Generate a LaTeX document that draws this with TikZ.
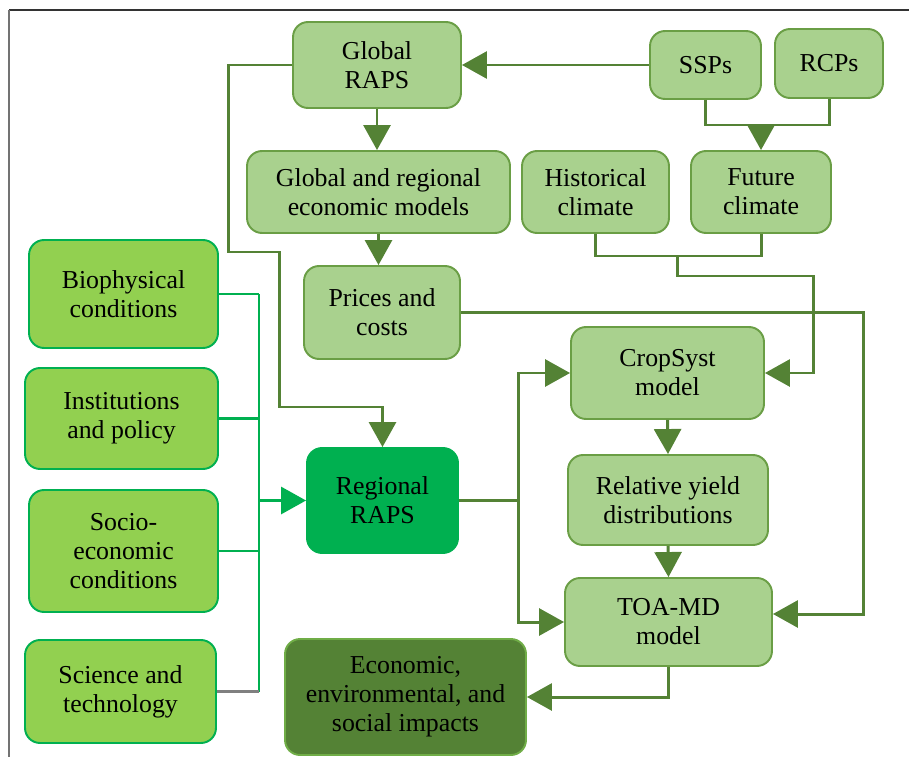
\documentclass[tikz,border=0pt]{standalone}
\usepackage{fontspec}
\setmainfont{Liberation Serif}
\usetikzlibrary{arrows.meta}

\definecolor{lightbox}{HTML}{A9D18E}
\definecolor{lightline}{HTML}{6A9E45}
\definecolor{darkgreen}{HTML}{548235}
\definecolor{limebox}{HTML}{92D050}
\definecolor{brightgreen}{HTML}{00B050}
\definecolor{impactline}{HTML}{70AD47}

\newcommand{\boxfont}{\fontsize{14.7}{16.5}\selectfont}

\begin{document}
\begin{tikzpicture}[x=0.02cm, y=-0.02cm,
    box/.style={draw=lightline, fill=lightbox, line width=1.1pt, rounded corners=0.3cm,
      align=center, inner sep=0pt, font=\boxfont},
    limebox/.style={box, draw=brightgreen, fill=limebox},
    link/.style={draw=darkgreen, line width=1.7pt},
    arr/.style={link, -{Triangle[length=0.5cm, width=0.54cm]}},
    brightlink/.style={draw=brightgreen, line width=1.7pt},
    brightarr/.style={brightlink, -{Triangle[length=0.5cm, width=0.54cm]}}]
  \useasboundingbox (0,0) rectangle (909,757);
  % frame, top and left only
  \draw[black!80, line width=0.6pt] (909,10) -- (9,10);
  \draw[black!55, line width=0.6pt] (9,10) -- (9,757);

  % top row
  \node[box, minimum width=3.36cm, minimum height=1.72cm] (glob) at (377,65) {Global\\RAPS};
  \node[box, minimum width=2.22cm, minimum height=1.36cm] (ssp) at (705.5,65) {SSPs};
  \node[box, minimum width=2.16cm, minimum height=1.38cm] (rcp) at (829,63.5) {RCPs};
  % second row
  \node[box, minimum width=5.26cm, minimum height=1.64cm] (econ) at (378.5,192) {Global and regional\\economic models};
  \node[box, minimum width=2.94cm, minimum height=1.64cm] (hist) at (595.5,192) {Historical\\climate};
  \node[box, minimum width=2.8cm, minimum height=1.64cm] (fut) at (761,192) {Future\\climate};
  \node[box, minimum width=3.12cm, minimum height=1.86cm] (price) at (382,312.5) {Prices and\\costs};

  % left column
  \node[limebox, minimum width=3.78cm, minimum height=2.16cm] (bio) at (123.5,294) {Biophysical\\conditions};
  \node[limebox, minimum width=3.86cm, minimum height=2.02cm] (inst) at (121.5,418.5) {Institutions\\and policy};
  \node[limebox, minimum width=3.78cm, minimum height=2.44cm] (socio) at (123.5,551) {Socio-\\economic\\conditions};
  \node[limebox, minimum width=3.82cm, minimum height=2.06cm] (sci) at (120.5,691.5) {Science and\\technology};

  % middle and right
  \node[box, draw=brightgreen, fill=brightgreen, minimum width=3.02cm, minimum height=2.1cm] (reg) at (382.5,500.5) {Regional\\RAPS};
  \node[box, minimum width=3.86cm, minimum height=1.84cm] (crop) at (667.5,373) {CropSyst\\model};
  \node[box, minimum width=4cm, minimum height=1.8cm] (yield) at (668,500) {Relative yield\\distributions};
  \node[box, minimum width=4.14cm, minimum height=1.76cm] (toa) at (668.5,622) {TOA-MD\\model};
  \node[box, draw=impactline, fill=darkgreen, minimum width=4.82cm, minimum height=2.32cm] (imp) at (405.5,697) {Economic,\\environmental, and\\social impacts};

  % global chain
  \draw[arr] (ssp.west) -- (glob.east);
  \draw[arr] (glob.south) -- (glob.south |- econ.north);
  \draw[arr] (econ.south) -- (econ.south |- price.north);
  \draw[arr] (glob.west) -- ++(-64,0) -- ++(0,187) -- ++(51,0) -- ++(0,155) -| (reg.north);

  % climate
  \coordinate (scenjoin) at (761,125);
  \draw[link] (ssp.south) |- (scenjoin) -| (rcp.south);
  \draw[arr] (scenjoin) -- (fut.north);
  \coordinate (climjoin) at (677,256);
  \draw[link] (hist.south) |- (climjoin) -| (fut.south);
  \draw[arr] (climjoin) -- ++(0,20) -- ++(136,0) |- (crop.east);

  % prices to TOA-MD
  \draw[arr] (price.east) -- ++(403,0) |- ([yshift=0.16cm]toa.east);

  % regional RAPS to the models
  \coordinate (regsplit) at (518,500.5);
  \draw[link] (reg.east) -- (regsplit);
  \foreach \n in {crop, toa} { \draw[arr] (regsplit) |- (\n.west); }
  \draw[arr] (crop.south) -- (yield.north);
  \draw[arr] (yield.south) -- (toa.north);
  \draw[arr] (toa.south) |- (imp.east);

  % left bus
  \coordinate (bus) at (259,500.5);
  \foreach \n in {bio, inst, socio} { \draw[brightlink] (\n.east) -- (\n.east -| bus); }
  \draw[brightlink] (bio.east -| bus) -- (sci.east -| bus);
  \draw[black!50, line width=1.7pt] (sci.east) -- (sci.east -| bus);
  \draw[brightarr] (bus) -- (reg.west);
\end{tikzpicture}
\end{document}
